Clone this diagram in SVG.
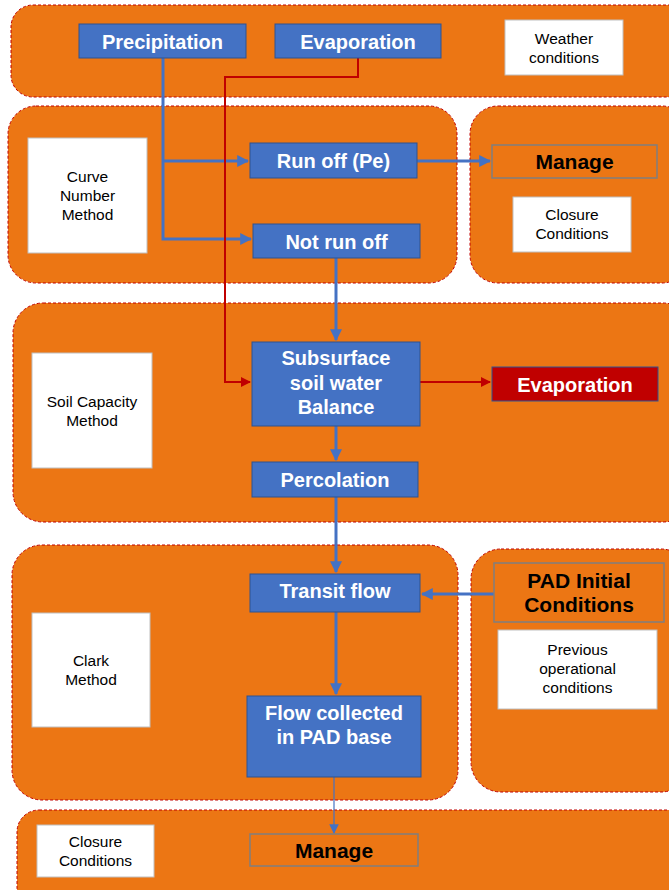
<svg xmlns="http://www.w3.org/2000/svg" width="669" height="890" viewBox="0 0 669 890">
  <style>
    .panel { fill: #EC7614; stroke: #C00000; stroke-width: 1; stroke-dasharray: 3 2; }
    .blue { fill: #4472C4; stroke: #2F528F; stroke-width: 1; }
    .red { fill: #C00000; stroke: #2F528F; stroke-width: 1; }
    .out { fill: #EC7614; stroke: #7F7F7F; stroke-width: 1.5; }
    .note { fill: #FFFFFF; stroke: #BFBFBF; stroke-width: 1; }
    .t { font-family: "Liberation Sans", Arial, sans-serif; font-weight: bold; font-size: 20px; fill: #FFFFFF; text-anchor: middle; }
    .tb { font-family: "Liberation Sans", Arial, sans-serif; font-weight: bold; font-size: 21px; fill: #000000; text-anchor: middle; }
    .n { font-family: "Liberation Sans", Arial, sans-serif; font-size: 15.5px; fill: #000000; text-anchor: middle; }
    .cb { fill: none; stroke: #4472C4; stroke-width: 3; }
    .cr { fill: none; stroke: #C00000; stroke-width: 2; }
  </style>
  <defs>
    <marker id="ab" viewBox="0 0 10 10" refX="9" refY="5" markerWidth="4" markerHeight="4" orient="auto" markerUnits="strokeWidth">
      <path d="M0,0 L10,5 L0,10 z" fill="#4472C4"/>
    </marker>
    <marker id="abt" viewBox="0 0 10 10" refX="9" refY="5" markerWidth="8" markerHeight="8" orient="auto" markerUnits="strokeWidth">
      <path d="M0,0 L10,5 L0,10 z" fill="#4472C4"/>
    </marker>
    <marker id="ar" viewBox="0 0 10 10" refX="9" refY="5" markerWidth="5" markerHeight="5" orient="auto" markerUnits="strokeWidth">
      <path d="M0,0 L10,5 L0,10 z" fill="#C00000"/>
    </marker>
  </defs>
  <rect width="669" height="890" fill="#FFFFFF"/>

  <!-- background panels -->
  <g id="panels">
    <rect class="panel" x="11" y="5" width="680" height="92" rx="22"/>
    <rect class="panel" x="8" y="106" width="449" height="177" rx="28"/>
    <rect class="panel" x="470" y="106" width="220" height="177" rx="28"/>
    <rect class="panel" x="13" y="303" width="680" height="219" rx="30"/>
    <rect class="panel" x="12" y="545" width="446" height="255" rx="30"/>
    <rect class="panel" x="471" y="549" width="220" height="243" rx="30"/>
    <rect class="panel" x="17" y="810" width="680" height="100" rx="22"/>
  </g>

  <!-- connectors -->
  <g id="connectors">
    <path class="cb" d="M163,58 V239 H251" marker-end="url(#ab)"/>
    <path class="cb" d="M163,161 H248" marker-end="url(#ab)"/>
    <path class="cr" d="M358,58 V77 H225 V382 H250" marker-end="url(#ar)"/>
    <path class="cb" d="M417,161 H490" marker-end="url(#ab)"/>
    <path class="cb" d="M336,258 V340" marker-end="url(#ab)"/>
    <path class="cr" d="M420,382 H490" marker-end="url(#ar)"/>
    <path class="cb" d="M336,426 V460" marker-end="url(#ab)"/>
    <path class="cb" d="M336,497 V572" marker-end="url(#ab)"/>
    <path class="cb" d="M494,594 H422" marker-end="url(#ab)"/>
    <path class="cb" d="M336,612 V694" marker-end="url(#ab)"/>
    <path fill="none" stroke="#4472C4" stroke-width="1.2" d="M334,777 V833" marker-end="url(#abt)"/>
  </g>

  <!-- weather row -->
  <g id="precipitation">
    <rect class="blue" x="79" y="24" width="167" height="34"/>
    <text class="t" x="162.5" y="48.5">Precipitation</text>
  </g>
  <g id="evaporation-in">
    <rect class="blue" x="275" y="24" width="166" height="34"/>
    <text class="t" x="358" y="48.5">Evaporation</text>
  </g>
  <g id="weather-conditions">
    <rect class="note" x="505" y="20" width="118" height="55"/>
    <text class="n" x="564" y="44">Weather</text>
    <text class="n" x="564" y="63">conditions</text>
  </g>

  <!-- curve number row -->
  <g id="curve-number">
    <rect class="note" x="28" y="138" width="119" height="115"/>
    <text class="n" x="87.5" y="182">Curve</text>
    <text class="n" x="87.5" y="201">Number</text>
    <text class="n" x="87.5" y="220">Method</text>
  </g>
  <g id="runoff">
    <rect class="blue" x="250" y="143" width="167" height="35"/>
    <text class="t" x="333.5" y="167.5">Run off (Pe)</text>
  </g>
  <g id="not-runoff">
    <rect class="blue" x="253" y="224" width="167" height="34"/>
    <text class="t" x="336.5" y="248.5">Not run off</text>
  </g>
  <g id="manage-top">
    <rect class="out" x="492" y="145" width="165" height="33"/>
    <text class="tb" x="574.5" y="169">Manage</text>
  </g>
  <g id="closure-top">
    <rect class="note" x="513" y="197" width="118" height="55"/>
    <text class="n" x="572" y="220">Closure</text>
    <text class="n" x="572" y="239">Conditions</text>
  </g>

  <!-- soil capacity row -->
  <g id="soil-capacity">
    <rect class="note" x="32" y="353" width="120" height="115"/>
    <text class="n" x="92" y="407">Soil Capacity</text>
    <text class="n" x="92" y="426">Method</text>
  </g>
  <g id="subsurface">
    <rect class="blue" x="252" y="342" width="168" height="84"/>
    <text class="t" x="336" y="365">Subsurface</text>
    <text class="t" x="336" y="389.5">soil water</text>
    <text class="t" x="336" y="414">Balance</text>
  </g>
  <g id="evaporation-out">
    <rect class="red" x="492" y="367" width="166" height="34"/>
    <text class="t" x="575" y="391.5">Evaporation</text>
  </g>
  <g id="percolation">
    <rect class="blue" x="252" y="462" width="166" height="35"/>
    <text class="t" x="335" y="486.5">Percolation</text>
  </g>

  <!-- clark row -->
  <g id="clark">
    <rect class="note" x="32" y="613" width="118" height="114"/>
    <text class="n" x="91" y="666">Clark</text>
    <text class="n" x="91" y="685">Method</text>
  </g>
  <g id="transit-flow">
    <rect class="blue" x="250" y="574" width="170" height="38"/>
    <text class="t" x="335" y="598">Transit flow</text>
  </g>
  <g id="flow-collected">
    <rect class="blue" x="247" y="696" width="174" height="81"/>
    <text class="t" x="334" y="720">Flow collected</text>
    <text class="t" x="334" y="744">in PAD base</text>
  </g>
  <g id="pad-initial">
    <rect class="out" x="494" y="563" width="170" height="59"/>
    <text class="tb" x="579" y="588">PAD Initial</text>
    <text class="tb" x="579" y="612">Conditions</text>
  </g>
  <g id="previous-conditions">
    <rect class="note" x="498" y="630" width="159" height="79"/>
    <text class="n" x="577.5" y="655">Previous</text>
    <text class="n" x="577.5" y="674">operational</text>
    <text class="n" x="577.5" y="693">conditions</text>
  </g>

  <!-- closure row -->
  <g id="closure-bottom">
    <rect class="note" x="37" y="825" width="117" height="52"/>
    <text class="n" x="95.5" y="847">Closure</text>
    <text class="n" x="95.5" y="866">Conditions</text>
  </g>
  <g id="manage-bottom">
    <rect class="out" x="250" y="834" width="168" height="32"/>
    <text class="tb" x="334" y="857.5">Manage</text>
  </g>
</svg>
